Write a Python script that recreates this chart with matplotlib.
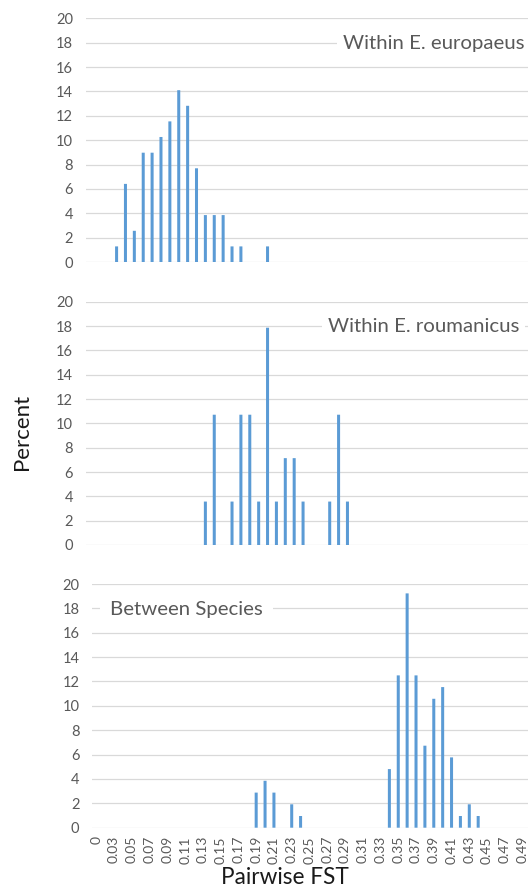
import matplotlib
matplotlib.use('Agg')
import matplotlib.pyplot as plt

# ---- data -------------------------------------------------------------
categories = ['0', '0.02', '0.03', '0.04', '0.05', '0.06', '0.07', '0.08', '0.09', '0.10',
              '0.11', '0.12', '0.13', '0.14', '0.15', '0.16', '0.17', '0.18', '0.19', '0.20',
              '0.21', '0.22', '0.23', '0.24', '0.25', '0.26', '0.27', '0.28', '0.29', '0.30',
              '0.31', '0.32', '0.33', '0.34', '0.35', '0.36', '0.37', '0.38', '0.39', '0.40',
              '0.41', '0.42', '0.43', '0.44', '0.45', '0.46', '0.47', '0.48', '0.49', '0.50']

europaeus_fst = ['0.04', '0.05', '0.06', '0.07', '0.08', '0.09', '0.10', '0.11', '0.12',
                 '0.13', '0.14', '0.15', '0.16', '0.17', '0.18', '0.21']
europaeus_pct = [1.28, 6.41, 2.56, 8.97, 8.97, 10.26, 11.54, 14.10, 12.82,
                 7.69, 3.85, 3.85, 3.85, 1.28, 1.28, 1.28]

roumanicus_fst = ['0.14', '0.15', '0.17', '0.18', '0.19', '0.20', '0.21', '0.22', '0.23',
                  '0.24', '0.25', '0.28', '0.29', '0.30']
roumanicus_pct = [3.57, 10.71, 3.57, 10.71, 10.71, 3.57, 17.86, 3.57, 7.14,
                  7.14, 3.57, 3.57, 10.71, 3.57]

between_fst = ['0.19', '0.20', '0.21', '0.23', '0.24', '0.34', '0.35', '0.36', '0.37',
               '0.38', '0.39', '0.40', '0.41', '0.42', '0.43', '0.44']
between_pct = [2.88, 3.85, 2.88, 1.92, 0.96, 4.81, 12.50, 19.23, 12.50,
               6.73, 10.58, 11.54, 5.77, 0.96, 1.92, 0.96]

y_ticks = [0, 2, 4, 6, 8, 10, 12, 14, 16, 18, 20]
panel_titles = ['Within E. europaeus', 'Within E. roumanicus', 'Between Species']

# ---- layout -----------------------------------------------------------
W, H = 528, 891
plt.rcParams['font.family'] = ['Lato', 'DejaVu Sans']
fig = plt.figure(figsize=(W / 100, H / 100), dpi=100)

BAR = '#5B9BD5'
GRID = '#D9D9D9'
TXT = '#595959'
spacing = 8.88  # px per category


def make_ax(left, top, bottom):
    width = W - left
    ax = fig.add_axes([left / W, 1 - bottom / H, width / W, (bottom - top) / H])
    ncat = width / spacing
    ax.set_xlim(-0.5, ncat - 0.5)
    ax.set_ylim(0, 20)
    ax.set_yticks(y_ticks)
    ax.set_yticklabels([str(t) for t in y_ticks])
    ax.tick_params(axis='y', length=0, pad=9, labelsize=10.5, labelcolor=TXT)
    for s in ax.spines.values():
        s.set_visible(False)
    ax.grid(axis='y', color=GRID, linewidth=0.9)
    ax.set_axisbelow(True)
    return ax


def draw(ax, fst, pct):
    idx = [categories.index(f) for f in fst]
    ax.bar(idx, pct, width=0.34, color=BAR, zorder=3, linewidth=0, snap=False)


ax1 = make_ax(85.5, 18.3, 262)
draw(ax1, europaeus_fst, europaeus_pct)
ax1.set_xticks([])

ax2 = make_ax(85.5, 301.7, 545)
draw(ax2, roumanicus_fst, roumanicus_pct)
ax2.set_xticks([])

ax3 = make_ax(91.9, 584, 827.7)
draw(ax3, between_fst, between_pct)
tick_pos = list(range(0, len(categories), 2))
labels3 = ['0'] + [categories[i] for i in range(2, len(categories), 2)]
ax3.set_xticks(tick_pos)
ax3.set_xticklabels(labels3, rotation=90)
ax3.tick_params(axis='x', length=0, pad=6, labelsize=10, labelcolor=TXT)

fig.text(343 / W, 1 - 44 / H, panel_titles[0], ha='left', va='center',
         fontsize=14.7, color=TXT, bbox=dict(facecolor='white', edgecolor='none', pad=4))
fig.text(328 / W, 1 - 326 / H, panel_titles[1], ha='left', va='center',
         fontsize=14.7, color=TXT, bbox=dict(facecolor='white', edgecolor='none', pad=4))
fig.text(110 / W, 1 - 610 / H, panel_titles[2], ha='left', va='center',
         fontsize=14.7, color=TXT, bbox=dict(facecolor='white', edgecolor='none', pad=7))

fig.text(22 / W, 1 - 432 / H, 'Percent', rotation=90, ha='center', va='center',
         fontsize=16, color='#1a1a1a')
fig.text(285 / W, 1 - 878 / H, 'Pairwise FST', ha='center', va='center',
         fontsize=16.3, color='#1a1a1a')

fig.savefig('out.png', dpi=100)
